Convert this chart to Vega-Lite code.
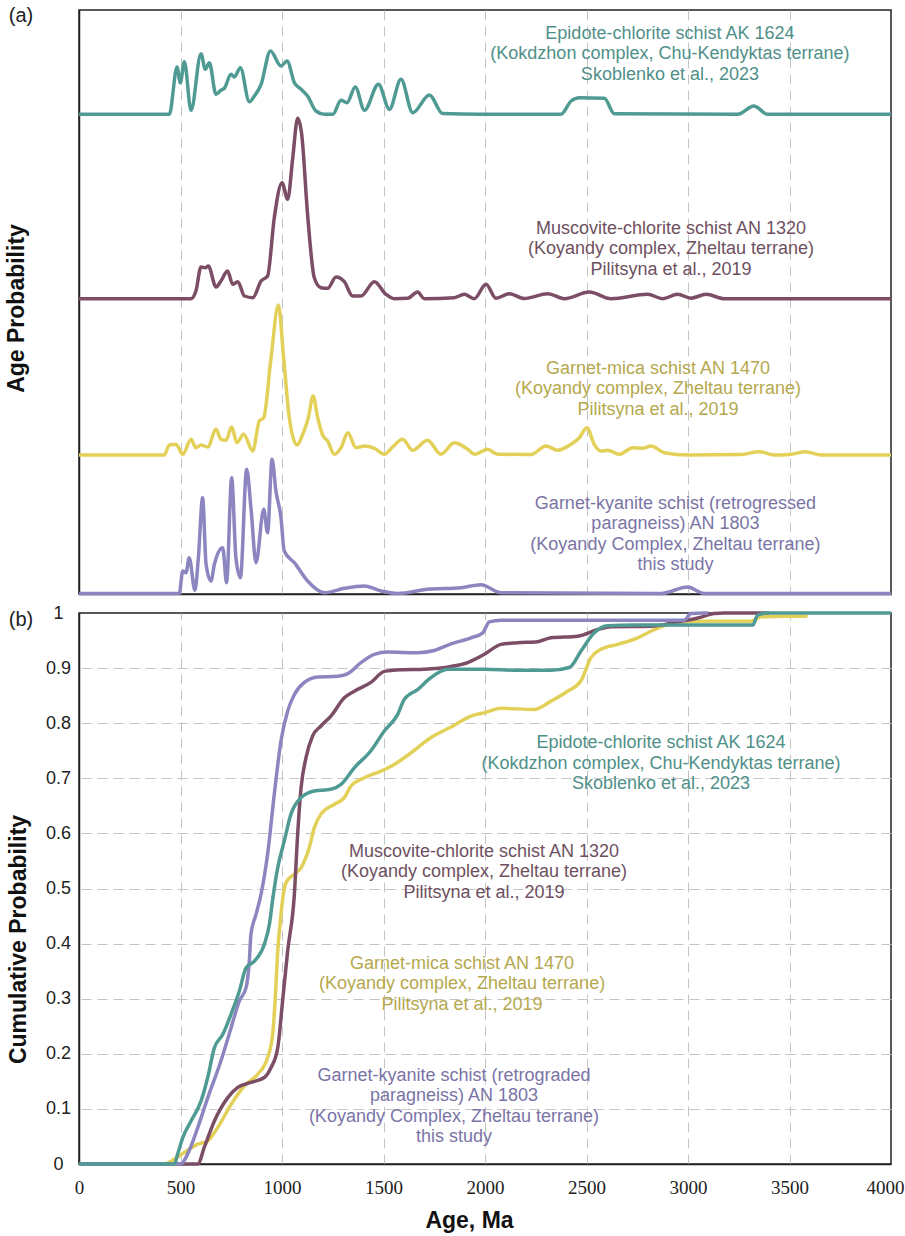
{
  "$schema": "https://vega.github.io/schema/vega-lite/v6.json",
  "padding": {"left": 4, "top": 5, "right": 0, "bottom": 0},
  "bounds": "flush",
  "spacing": 19,
  "config": {
    "font": "Liberation Sans",
    "view": {"stroke": "#222", "strokeWidth": 1.5},
    "axis": {
      "domainColor": "#222", "domainWidth": 1.5, "gridColor": "#c4c4c4", "gridDash": [10, 6], "gridWidth": 1,
      "ticks": false, "tickSize": 0, "labelColor": "#222", "titleColor": "#111",
      "titleFont": "Liberation Sans", "titleFontWeight": "bold", "titleFontSize": 23
    }
  },
  "datasets": {
    "pdp": [
      {"sample":"AN 1470","age":0,"p":139},{"sample":"AN 1470","age":420,"p":139},{"sample":"AN 1470","age":445,"p":149},{"sample":"AN 1470","age":478,"p":149.7},{"sample":"AN 1470","age":511,"p":139.7},{"sample":"AN 1470","age":552,"p":154.7},{"sample":"AN 1470","age":576,"p":146.3},{"sample":"AN 1470","age":601,"p":149},{"sample":"AN 1470","age":634,"p":147},{"sample":"AN 1470","age":675,"p":164.7},{"sample":"AN 1470","age":699,"p":154.7},{"sample":"AN 1470","age":724,"p":153.7},{"sample":"AN 1470","age":752,"p":167},{"sample":"AN 1470","age":778,"p":151.3},{"sample":"AN 1470","age":811,"p":159.7},{"sample":"AN 1470","age":856,"p":143},{"sample":"AN 1470","age":888,"p":173},{"sample":"AN 1470","age":910,"p":176.3},{"sample":"AN 1470","age":946,"p":236.3},{"sample":"AN 1470","age":982,"p":289},{"sample":"AN 1470","age":1008,"p":236.3},{"sample":"AN 1470","age":1036,"p":176.3},{"sample":"AN 1470","age":1074,"p":149},{"sample":"AN 1470","age":1102,"p":159.7},{"sample":"AN 1470","age":1130,"p":176.3},{"sample":"AN 1470","age":1153,"p":198},{"sample":"AN 1470","age":1176,"p":176.3},{"sample":"AN 1470","age":1200,"p":159},{"sample":"AN 1470","age":1225,"p":153},{"sample":"AN 1470","age":1258,"p":139.7},{"sample":"AN 1470","age":1291,"p":146.3},{"sample":"AN 1470","age":1324,"p":161.3},{"sample":"AN 1470","age":1364,"p":146.3},{"sample":"AN 1470","age":1406,"p":148},{"sample":"AN 1470","age":1455,"p":145.7},{"sample":"AN 1470","age":1504,"p":139.7},{"sample":"AN 1470","age":1545,"p":147},{"sample":"AN 1470","age":1594,"p":154.7},{"sample":"AN 1470","age":1644,"p":143.7},{"sample":"AN 1470","age":1717,"p":153.7},{"sample":"AN 1470","age":1783,"p":139.7},{"sample":"AN 1470","age":1849,"p":151.3},{"sample":"AN 1470","age":1915,"p":144.7},{"sample":"AN 1470","age":1950,"p":139.7},{"sample":"AN 1470","age":2013,"p":144.7},{"sample":"AN 1470","age":2062,"p":139.7},{"sample":"AN 1470","age":2227,"p":139.5},{"sample":"AN 1470","age":2300,"p":148},{"sample":"AN 1470","age":2358,"p":143.7},{"sample":"AN 1470","age":2424,"p":149.7},{"sample":"AN 1470","age":2465,"p":156.3},{"sample":"AN 1470","age":2502,"p":166.3},{"sample":"AN 1470","age":2538,"p":149.7},{"sample":"AN 1470","age":2571,"p":143},{"sample":"AN 1470","age":2604,"p":143.7},{"sample":"AN 1470","age":2662,"p":139.7},{"sample":"AN 1470","age":2728,"p":146.3},{"sample":"AN 1470","age":2777,"p":145.7},{"sample":"AN 1470","age":2818,"p":148},{"sample":"AN 1470","age":2883,"p":141.3},{"sample":"AN 1470","age":2998,"p":139},{"sample":"AN 1470","age":3261,"p":139.5},{"sample":"AN 1470","age":3351,"p":142.3},{"sample":"AN 1470","age":3425,"p":139},{"sample":"AN 1470","age":3499,"p":139.5},{"sample":"AN 1470","age":3581,"p":142.3},{"sample":"AN 1470","age":3655,"p":139},{"sample":"AN 1470","age":4000,"p":139},

      {"sample":"AN 1320","age":0,"p":295.3},{"sample":"AN 1320","age":552,"p":295.3},{"sample":"AN 1320","age":576,"p":303},{"sample":"AN 1320","age":601,"p":327},{"sample":"AN 1320","age":622,"p":326.3},{"sample":"AN 1320","age":637,"p":328},{"sample":"AN 1320","age":675,"p":307},{"sample":"AN 1320","age":699,"p":313},{"sample":"AN 1320","age":732,"p":323},{"sample":"AN 1320","age":757,"p":309.7},{"sample":"AN 1320","age":782,"p":312.3},{"sample":"AN 1320","age":815,"p":298},{"sample":"AN 1320","age":856,"p":296.3},{"sample":"AN 1320","age":897,"p":313},{"sample":"AN 1320","age":929,"p":318},{"sample":"AN 1320","age":962,"p":376.3},{"sample":"AN 1320","age":1000,"p":411.3},{"sample":"AN 1320","age":1028,"p":394.7},{"sample":"AN 1320","age":1053,"p":436.3},{"sample":"AN 1320","age":1077,"p":475.7},{"sample":"AN 1320","age":1097,"p":459.7},{"sample":"AN 1320","age":1126,"p":379.7},{"sample":"AN 1320","age":1159,"p":316.3},{"sample":"AN 1320","age":1192,"p":306.3},{"sample":"AN 1320","age":1225,"p":305.7},{"sample":"AN 1320","age":1266,"p":317},{"sample":"AN 1320","age":1307,"p":312.3},{"sample":"AN 1320","age":1348,"p":298},{"sample":"AN 1320","age":1389,"p":298},{"sample":"AN 1320","age":1455,"p":312.3},{"sample":"AN 1320","age":1512,"p":299.7},{"sample":"AN 1320","age":1553,"p":295.3},{"sample":"AN 1320","age":1619,"p":295.7},{"sample":"AN 1320","age":1668,"p":302},{"sample":"AN 1320","age":1701,"p":295.3},{"sample":"AN 1320","age":1849,"p":296.3},{"sample":"AN 1320","age":1898,"p":299.7},{"sample":"AN 1320","age":1947,"p":295.3},{"sample":"AN 1320","age":2005,"p":309.7},{"sample":"AN 1320","age":2054,"p":295.7},{"sample":"AN 1320","age":2120,"p":300.3},{"sample":"AN 1320","age":2194,"p":295.5},{"sample":"AN 1320","age":2309,"p":300.3},{"sample":"AN 1320","age":2391,"p":295.3},{"sample":"AN 1320","age":2514,"p":302},{"sample":"AN 1320","age":2621,"p":295.3},{"sample":"AN 1320","age":2801,"p":299.7},{"sample":"AN 1320","age":2875,"p":295.3},{"sample":"AN 1320","age":2949,"p":299.7},{"sample":"AN 1320","age":3015,"p":295.8},{"sample":"AN 1320","age":3089,"p":299.7},{"sample":"AN 1320","age":3179,"p":295.3},{"sample":"AN 1320","age":4000,"p":295.3},

      {"sample":"AN 1803","age":0,"p":0.5},{"sample":"AN 1803","age":494,"p":0.5},{"sample":"AN 1803","age":511,"p":23},{"sample":"AN 1803","age":527,"p":21.3},{"sample":"AN 1803","age":543,"p":36.3},{"sample":"AN 1803","age":571,"p":3.7},{"sample":"AN 1803","age":588,"p":36.3},{"sample":"AN 1803","age":609,"p":96.3},{"sample":"AN 1803","age":626,"p":29.7},{"sample":"AN 1803","age":650,"p":13},{"sample":"AN 1803","age":667,"p":29.7},{"sample":"AN 1803","age":708,"p":46.3},{"sample":"AN 1803","age":727,"p":11.3},{"sample":"AN 1803","age":752,"p":116.3},{"sample":"AN 1803","age":773,"p":36.3},{"sample":"AN 1803","age":795,"p":16.3},{"sample":"AN 1803","age":826,"p":124.7},{"sample":"AN 1803","age":847,"p":86.3},{"sample":"AN 1803","age":872,"p":31.3},{"sample":"AN 1803","age":910,"p":84.7},{"sample":"AN 1803","age":929,"p":61.3},{"sample":"AN 1803","age":951,"p":134.7},{"sample":"AN 1803","age":970,"p":103},{"sample":"AN 1803","age":995,"p":76.3},{"sample":"AN 1803","age":1011,"p":43},{"sample":"AN 1803","age":1061,"p":31.3},{"sample":"AN 1803","age":1126,"p":13},{"sample":"AN 1803","age":1209,"p":1.3},{"sample":"AN 1803","age":1307,"p":5.7},{"sample":"AN 1803","age":1406,"p":8},{"sample":"AN 1803","age":1488,"p":3},{"sample":"AN 1803","age":1570,"p":0.5},{"sample":"AN 1803","age":1717,"p":4.7},{"sample":"AN 1803","age":1882,"p":6.3},{"sample":"AN 1803","age":1980,"p":9.3},{"sample":"AN 1803","age":2079,"p":1.3},{"sample":"AN 1803","age":2867,"p":0.5},{"sample":"AN 1803","age":2998,"p":7},{"sample":"AN 1803","age":3080,"p":0.5},{"sample":"AN 1803","age":4000,"p":0.5},

      {"sample":"AK 1624","age":0,"p":479.7},{"sample":"AK 1624","age":445,"p":479.7},{"sample":"AK 1624","age":483,"p":527},{"sample":"AK 1624","age":499,"p":511.3},{"sample":"AK 1624","age":519,"p":532.3},{"sample":"AK 1624","age":552,"p":483.7},{"sample":"AK 1624","age":601,"p":540.3},{"sample":"AK 1624","age":622,"p":524.7},{"sample":"AK 1624","age":642,"p":531.3},{"sample":"AK 1624","age":675,"p":499.7},{"sample":"AK 1624","age":699,"p":503.7},{"sample":"AK 1624","age":716,"p":505.7},{"sample":"AK 1624","age":749,"p":519.7},{"sample":"AK 1624","age":765,"p":517},{"sample":"AK 1624","age":795,"p":526.3},{"sample":"AK 1624","age":839,"p":492.3},{"sample":"AK 1624","age":864,"p":498},{"sample":"AK 1624","age":897,"p":509.7},{"sample":"AK 1624","age":943,"p":543},{"sample":"AK 1624","age":995,"p":528},{"sample":"AK 1624","age":1025,"p":533},{"sample":"AK 1624","age":1061,"p":511.3},{"sample":"AK 1624","age":1094,"p":504.7},{"sample":"AK 1624","age":1126,"p":498},{"sample":"AK 1624","age":1167,"p":483},{"sample":"AK 1624","age":1209,"p":479.7},{"sample":"AK 1624","age":1250,"p":479.7},{"sample":"AK 1624","age":1291,"p":493.7},{"sample":"AK 1624","age":1320,"p":491.3},{"sample":"AK 1624","age":1361,"p":507},{"sample":"AK 1624","age":1406,"p":483.7},{"sample":"AK 1624","age":1475,"p":509.7},{"sample":"AK 1624","age":1529,"p":484.7},{"sample":"AK 1624","age":1586,"p":514.7},{"sample":"AK 1624","age":1644,"p":481.3},{"sample":"AK 1624","age":1726,"p":499},{"sample":"AK 1624","age":1791,"p":480.5},{"sample":"AK 1624","age":1980,"p":479.7},{"sample":"AK 1624","age":2374,"p":479.7},{"sample":"AK 1624","age":2424,"p":493},{"sample":"AK 1624","age":2465,"p":496.3},{"sample":"AK 1624","age":2588,"p":495.7},{"sample":"AK 1624","age":2637,"p":480.3},{"sample":"AK 1624","age":3245,"p":479.7},{"sample":"AK 1624","age":3324,"p":488},{"sample":"AK 1624","age":3393,"p":479.7},{"sample":"AK 1624","age":4000,"p":479.7}
    ],
    "cum": [
      {"sample":"AN 1470","age":0,"cum":0},{"sample":"AN 1470","age":420,"cum":0},{"sample":"AN 1470","age":470,"cum":0.009},{"sample":"AN 1470","age":519,"cum":0.021},{"sample":"AN 1470","age":585,"cum":0.036},{"sample":"AN 1470","age":634,"cum":0.042},{"sample":"AN 1470","age":683,"cum":0.066},{"sample":"AN 1470","age":749,"cum":0.108},{"sample":"AN 1470","age":815,"cum":0.142},{"sample":"AN 1470","age":880,"cum":0.163},{"sample":"AN 1470","age":929,"cum":0.193},{"sample":"AN 1470","age":954,"cum":0.235},{"sample":"AN 1470","age":966,"cum":0.296},{"sample":"AN 1470","age":979,"cum":0.387},{"sample":"AN 1470","age":995,"cum":0.453},{"sample":"AN 1470","age":1003,"cum":0.48},{"sample":"AN 1470","age":1020,"cum":0.511},{"sample":"AN 1470","age":1061,"cum":0.526},{"sample":"AN 1470","age":1094,"cum":0.538},{"sample":"AN 1470","age":1134,"cum":0.574},{"sample":"AN 1470","age":1159,"cum":0.61},{"sample":"AN 1470","age":1192,"cum":0.635},{"sample":"AN 1470","age":1258,"cum":0.653},{"sample":"AN 1470","age":1307,"cum":0.665},{"sample":"AN 1470","age":1340,"cum":0.686},{"sample":"AN 1470","age":1406,"cum":0.701},{"sample":"AN 1470","age":1488,"cum":0.713},{"sample":"AN 1470","age":1553,"cum":0.725},{"sample":"AN 1470","age":1635,"cum":0.746},{"sample":"AN 1470","age":1734,"cum":0.774},{"sample":"AN 1470","age":1833,"cum":0.793},{"sample":"AN 1470","age":1931,"cum":0.813},{"sample":"AN 1470","age":1997,"cum":0.819},{"sample":"AN 1470","age":2079,"cum":0.827},{"sample":"AN 1470","age":2243,"cum":0.825},{"sample":"AN 1470","age":2325,"cum":0.84},{"sample":"AN 1470","age":2407,"cum":0.858},{"sample":"AN 1470","age":2473,"cum":0.877},{"sample":"AN 1470","age":2522,"cum":0.919},{"sample":"AN 1470","age":2571,"cum":0.934},{"sample":"AN 1470","age":2654,"cum":0.943},{"sample":"AN 1470","age":2752,"cum":0.955},{"sample":"AN 1470","age":2834,"cum":0.97},{"sample":"AN 1470","age":2949,"cum":0.983},{"sample":"AN 1470","age":3064,"cum":0.985},{"sample":"AN 1470","age":3310,"cum":0.985},{"sample":"AN 1470","age":3360,"cum":0.993},{"sample":"AN 1470","age":3474,"cum":0.994},{"sample":"AN 1470","age":3589,"cum":0.994},

      {"sample":"AN 1320","age":0,"cum":0},{"sample":"AN 1320","age":585,"cum":0},{"sample":"AN 1320","age":617,"cum":0.03},{"sample":"AN 1320","age":667,"cum":0.078},{"sample":"AN 1320","age":732,"cum":0.12},{"sample":"AN 1320","age":782,"cum":0.139},{"sample":"AN 1320","age":847,"cum":0.148},{"sample":"AN 1320","age":913,"cum":0.157},{"sample":"AN 1320","age":946,"cum":0.175},{"sample":"AN 1320","age":979,"cum":0.211},{"sample":"AN 1320","age":1003,"cum":0.296},{"sample":"AN 1320","age":1028,"cum":0.387},{"sample":"AN 1320","age":1061,"cum":0.49},{"sample":"AN 1320","age":1077,"cum":0.598},{"sample":"AN 1320","age":1094,"cum":0.683},{"sample":"AN 1320","age":1118,"cum":0.737},{"sample":"AN 1320","age":1151,"cum":0.777},{"sample":"AN 1320","age":1192,"cum":0.795},{"sample":"AN 1320","age":1241,"cum":0.813},{"sample":"AN 1320","age":1307,"cum":0.846},{"sample":"AN 1320","age":1356,"cum":0.858},{"sample":"AN 1320","age":1438,"cum":0.874},{"sample":"AN 1320","age":1504,"cum":0.894},{"sample":"AN 1320","age":1586,"cum":0.897},{"sample":"AN 1320","age":1701,"cum":0.898},{"sample":"AN 1320","age":1833,"cum":0.903},{"sample":"AN 1320","age":1915,"cum":0.91},{"sample":"AN 1320","age":1997,"cum":0.925},{"sample":"AN 1320","age":2079,"cum":0.943},{"sample":"AN 1320","age":2161,"cum":0.946},{"sample":"AN 1320","age":2259,"cum":0.948},{"sample":"AN 1320","age":2325,"cum":0.955},{"sample":"AN 1320","age":2457,"cum":0.958},{"sample":"AN 1320","age":2555,"cum":0.97},{"sample":"AN 1320","age":2621,"cum":0.975},{"sample":"AN 1320","age":2818,"cum":0.976},{"sample":"AN 1320","age":2949,"cum":0.984},{"sample":"AN 1320","age":3048,"cum":0.991},{"sample":"AN 1320","age":3130,"cum":0.999},{"sample":"AN 1320","age":3179,"cum":1},{"sample":"AN 1320","age":3400,"cum":1},

      {"sample":"AN 1803","age":0,"cum":0},{"sample":"AN 1803","age":502,"cum":0},{"sample":"AN 1803","age":535,"cum":0.018},{"sample":"AN 1803","age":585,"cum":0.066},{"sample":"AN 1803","age":634,"cum":0.12},{"sample":"AN 1803","age":699,"cum":0.187},{"sample":"AN 1803","age":749,"cum":0.247},{"sample":"AN 1803","age":790,"cum":0.296},{"sample":"AN 1803","age":823,"cum":0.32},{"sample":"AN 1803","age":839,"cum":0.368},{"sample":"AN 1803","age":847,"cum":0.417},{"sample":"AN 1803","age":872,"cum":0.453},{"sample":"AN 1803","age":897,"cum":0.49},{"sample":"AN 1803","age":929,"cum":0.562},{"sample":"AN 1803","age":962,"cum":0.671},{"sample":"AN 1803","age":995,"cum":0.768},{"sample":"AN 1803","age":1028,"cum":0.822},{"sample":"AN 1803","age":1061,"cum":0.852},{"sample":"AN 1803","age":1110,"cum":0.874},{"sample":"AN 1803","age":1176,"cum":0.884},{"sample":"AN 1803","age":1274,"cum":0.885},{"sample":"AN 1803","age":1324,"cum":0.89},{"sample":"AN 1803","age":1389,"cum":0.91},{"sample":"AN 1803","age":1455,"cum":0.925},{"sample":"AN 1803","age":1521,"cum":0.929},{"sample":"AN 1803","age":1668,"cum":0.928},{"sample":"AN 1803","age":1750,"cum":0.932},{"sample":"AN 1803","age":1833,"cum":0.944},{"sample":"AN 1803","age":1931,"cum":0.955},{"sample":"AN 1803","age":1989,"cum":0.964},{"sample":"AN 1803","age":2021,"cum":0.984},{"sample":"AN 1803","age":2079,"cum":0.987},{"sample":"AN 1803","age":2982,"cum":0.987},{"sample":"AN 1803","age":3015,"cum":0.999},{"sample":"AN 1803","age":3080,"cum":1},{"sample":"AN 1803","age":3100,"cum":1},

      {"sample":"AK 1624","age":0,"cum":0},{"sample":"AK 1624","age":470,"cum":0},{"sample":"AK 1624","age":486,"cum":0.018},{"sample":"AK 1624","age":511,"cum":0.048},{"sample":"AK 1624","age":552,"cum":0.078},{"sample":"AK 1624","age":601,"cum":0.114},{"sample":"AK 1624","age":634,"cum":0.157},{"sample":"AK 1624","age":667,"cum":0.211},{"sample":"AK 1624","age":708,"cum":0.235},{"sample":"AK 1624","age":749,"cum":0.272},{"sample":"AK 1624","age":790,"cum":0.314},{"sample":"AK 1624","age":823,"cum":0.356},{"sample":"AK 1624","age":864,"cum":0.368},{"sample":"AK 1624","age":913,"cum":0.399},{"sample":"AK 1624","age":938,"cum":0.435},{"sample":"AK 1624","age":954,"cum":0.48},{"sample":"AK 1624","age":979,"cum":0.538},{"sample":"AK 1624","age":1011,"cum":0.586},{"sample":"AK 1624","age":1044,"cum":0.635},{"sample":"AK 1624","age":1094,"cum":0.665},{"sample":"AK 1624","age":1159,"cum":0.677},{"sample":"AK 1624","age":1241,"cum":0.68},{"sample":"AK 1624","age":1291,"cum":0.689},{"sample":"AK 1624","age":1356,"cum":0.719},{"sample":"AK 1624","age":1438,"cum":0.75},{"sample":"AK 1624","age":1504,"cum":0.786},{"sample":"AK 1624","age":1570,"cum":0.816},{"sample":"AK 1624","age":1602,"cum":0.843},{"sample":"AK 1624","age":1668,"cum":0.861},{"sample":"AK 1624","age":1734,"cum":0.883},{"sample":"AK 1624","age":1816,"cum":0.898},{"sample":"AK 1624","age":1997,"cum":0.898},{"sample":"AK 1624","age":2161,"cum":0.896},{"sample":"AK 1624","age":2325,"cum":0.896},{"sample":"AK 1624","age":2415,"cum":0.901},{"sample":"AK 1624","age":2473,"cum":0.931},{"sample":"AK 1624","age":2538,"cum":0.964},{"sample":"AK 1624","age":2604,"cum":0.977},{"sample":"AK 1624","age":2736,"cum":0.978},{"sample":"AK 1624","age":3319,"cum":0.978},{"sample":"AK 1624","age":3343,"cum":0.996},{"sample":"AK 1624","age":3393,"cum":1},{"sample":"AK 1624","age":4000,"cum":1}
    ]
  },
  "vconcat": [
    {
      "width": 812,
      "height": 584,
      "layer": [
        {
          "data": {"name": "pdp"},
          "mark": {"type": "line", "strokeWidth": 3.5, "interpolate": "monotone"},
          "encoding": {
            "x": {"field": "age", "type": "quantitative", "scale": {"domain": [0, 4000], "nice": false},
                  "axis": {"title": null, "labels": false, "grid": true, "values": [500, 1000, 1500, 2000, 2500, 3000, 3500]}},
            "y": {"field": "p", "type": "quantitative", "scale": {"domain": [0, 584], "nice": false, "zero": false},
                  "axis": {"title": "Age Probability", "labels": false, "grid": false, "titleX": -51, "titleY": 298}},
            "color": {"field": "sample", "type": "nominal", "legend": null,
                      "scale": {"domain": ["AK 1624", "AN 1320", "AN 1470", "AN 1803"], "range": ["#4f9b94", "#7c4e66", "#e3d059", "#8c86c0"]}}
          }
        },
        {
          "data": {"values": [{}]},
          "mark": {"type": "text", "text": "(a)", "fontSize": 20, "align": "center", "baseline": "middle", "color": "#222"},
          "encoding": {"x": {"datum": -286, "type": "quantitative"}, "y": {"datum": 578, "type": "quantitative"}}
        },
        {
          "data": {"values": [{}]},
          "mark": {"type": "text", "text": "Epidote-chlorite schist AK 1624\n(Kokdzhon complex, Chu-Kendyktas terrane)\nSkoblenko et al., 2023", "lineBreak": "\n", "lineHeight": 20.5, "fontSize": 18, "align": "center", "baseline": "top", "color": "#4f8f89"},
          "encoding": {"x": {"datum": 2911, "type": "quantitative"}, "y": {"datum": 569.5, "type": "quantitative"}}
        },
        {
          "data": {"values": [{}]},
          "mark": {"type": "text", "text": "Muscovite-chlorite schist AN 1320\n(Koyandy complex, Zheltau terrane)\nPilitsyna et al., 2019", "lineBreak": "\n", "lineHeight": 20.5, "fontSize": 18, "align": "center", "baseline": "top", "color": "#6e505f"},
          "encoding": {"x": {"datum": 2916, "type": "quantitative"}, "y": {"datum": 374.5, "type": "quantitative"}}
        },
        {
          "data": {"values": [{}]},
          "mark": {"type": "text", "text": "Garnet-mica schist AN 1470\n(Koyandy complex, Zheltau terrane)\nPilitsyna et al., 2019", "lineBreak": "\n", "lineHeight": 20.5, "fontSize": 18, "align": "center", "baseline": "top", "color": "#b5a84e"},
          "encoding": {"x": {"datum": 2852, "type": "quantitative"}, "y": {"datum": 234.5, "type": "quantitative"}}
        },
        {
          "data": {"values": [{}]},
          "mark": {"type": "text", "text": "Garnet-kyanite schist (retrogressed\nparagneiss) AN 1803\n(Koyandy Complex, Zheltau terrane)\nthis study", "lineBreak": "\n", "lineHeight": 20.5, "fontSize": 18, "align": "center", "baseline": "top", "color": "#7a74a6"},
          "encoding": {"x": {"datum": 2938, "type": "quantitative"}, "y": {"datum": 99.5, "type": "quantitative"}}
        }
      ]
    },
    {
      "width": 812,
      "height": 551,
      "resolve": {"axis": {"x": "independent", "y": "independent"}},
      "layer": [
        {
          "data": {"name": "cum"},
          "mark": {"type": "line", "strokeWidth": 3.5, "interpolate": "monotone"},
          "encoding": {
            "x": {"field": "age", "type": "quantitative", "scale": {"domain": [0, 4000], "nice": false},
                  "axis": {"title": "Age, Ma", "grid": false, "values": [0, 500, 1000, 1500, 2000, 2500, 3000, 3500, 4000], "format": "d",
                           "labelFont": "Liberation Serif", "labelFontSize": 19, "labelPadding": 14, "labelFlush": false,
                           "labelOffset": {"condition": {"test": "datum.value === 4000", "value": -6}, "value": 0},
                           "titleX": 390, "titleY": 45}},
            "y": {"field": "cum", "type": "quantitative", "scale": {"domain": [0, 1], "nice": false},
                  "axis": {"title": "Cumulative Probability", "grid": false, "values": [0, 0.1, 0.2, 0.3, 0.4, 0.5, 0.6, 0.7, 0.8, 0.9, 1],
                           "format": "~g", "labelFontSize": 18, "labelAlign": "center", "labelPadding": 21,
                           "titleX": -49, "titleY": 326}},
            "color": {"field": "sample", "type": "nominal", "legend": null,
                      "scale": {"domain": ["AK 1624", "AN 1320", "AN 1470", "AN 1803"], "range": ["#4f9b94", "#7c4e66", "#e3d059", "#8c86c0"]}}
          }
        },
        {
          "data": {"values": [{}]},
          "mark": {"type": "text", "text": "(b)", "fontSize": 20, "align": "center", "baseline": "middle", "color": "#222"},
          "encoding": {
            "x": {"datum": -286, "type": "quantitative",
                  "axis": {"orient": "top", "grid": true, "values": [500, 1000, 1500, 2000, 2500, 3000, 3500], "labels": false, "domain": false, "title": null, "minExtent": 0, "maxExtent": 0}},
            "y": {"datum": 0.988, "type": "quantitative",
                  "axis": {"orient": "right", "grid": true, "values": [0.1, 0.2, 0.3, 0.4, 0.5, 0.6, 0.7, 0.8, 0.9], "labels": false, "domain": false, "title": null, "minExtent": 0, "maxExtent": 0}}
          }
        },
        {
          "data": {"values": [{}]},
          "mark": {"type": "text", "text": "Epidote-chlorite schist AK 1624\n(Kokdzhon complex, Chu-Kendyktas terrane)\nSkoblenko et al., 2023", "lineBreak": "\n", "lineHeight": 20.5, "fontSize": 18, "align": "center", "baseline": "top", "color": "#4f8f89"},
          "encoding": {"x": {"datum": 2867, "type": "quantitative", "axis": null}, "y": {"datum": 0.7795, "type": "quantitative", "axis": null}}
        },
        {
          "data": {"values": [{}]},
          "mark": {"type": "text", "text": "Muscovite-chlorite schist AN 1320\n(Koyandy complex, Zheltau terrane)\nPilitsyna et al., 2019", "lineBreak": "\n", "lineHeight": 20.5, "fontSize": 18, "align": "center", "baseline": "top", "color": "#6e505f"},
          "encoding": {"x": {"datum": 1995, "type": "quantitative", "axis": null}, "y": {"datum": 0.583, "type": "quantitative", "axis": null}}
        },
        {
          "data": {"values": [{}]},
          "mark": {"type": "text", "text": "Garnet-mica schist AN 1470\n(Koyandy complex, Zheltau terrane)\nPilitsyna et al., 2019", "lineBreak": "\n", "lineHeight": 20.5, "fontSize": 18, "align": "center", "baseline": "top", "color": "#b5a84e"},
          "encoding": {"x": {"datum": 1887, "type": "quantitative", "axis": null}, "y": {"datum": 0.3797, "type": "quantitative", "axis": null}}
        },
        {
          "data": {"values": [{}]},
          "mark": {"type": "text", "text": "Garnet-kyanite schist (retrograded\nparagneiss) AN 1803\n(Koyandy Complex, Zheltau terrane)\nthis study", "lineBreak": "\n", "lineHeight": 20.5, "fontSize": 18, "align": "center", "baseline": "top", "color": "#7a74a6"},
          "encoding": {"x": {"datum": 1847, "type": "quantitative", "axis": null}, "y": {"datum": 0.1764, "type": "quantitative", "axis": null}}
        }
      ]
    }
  ]
}
